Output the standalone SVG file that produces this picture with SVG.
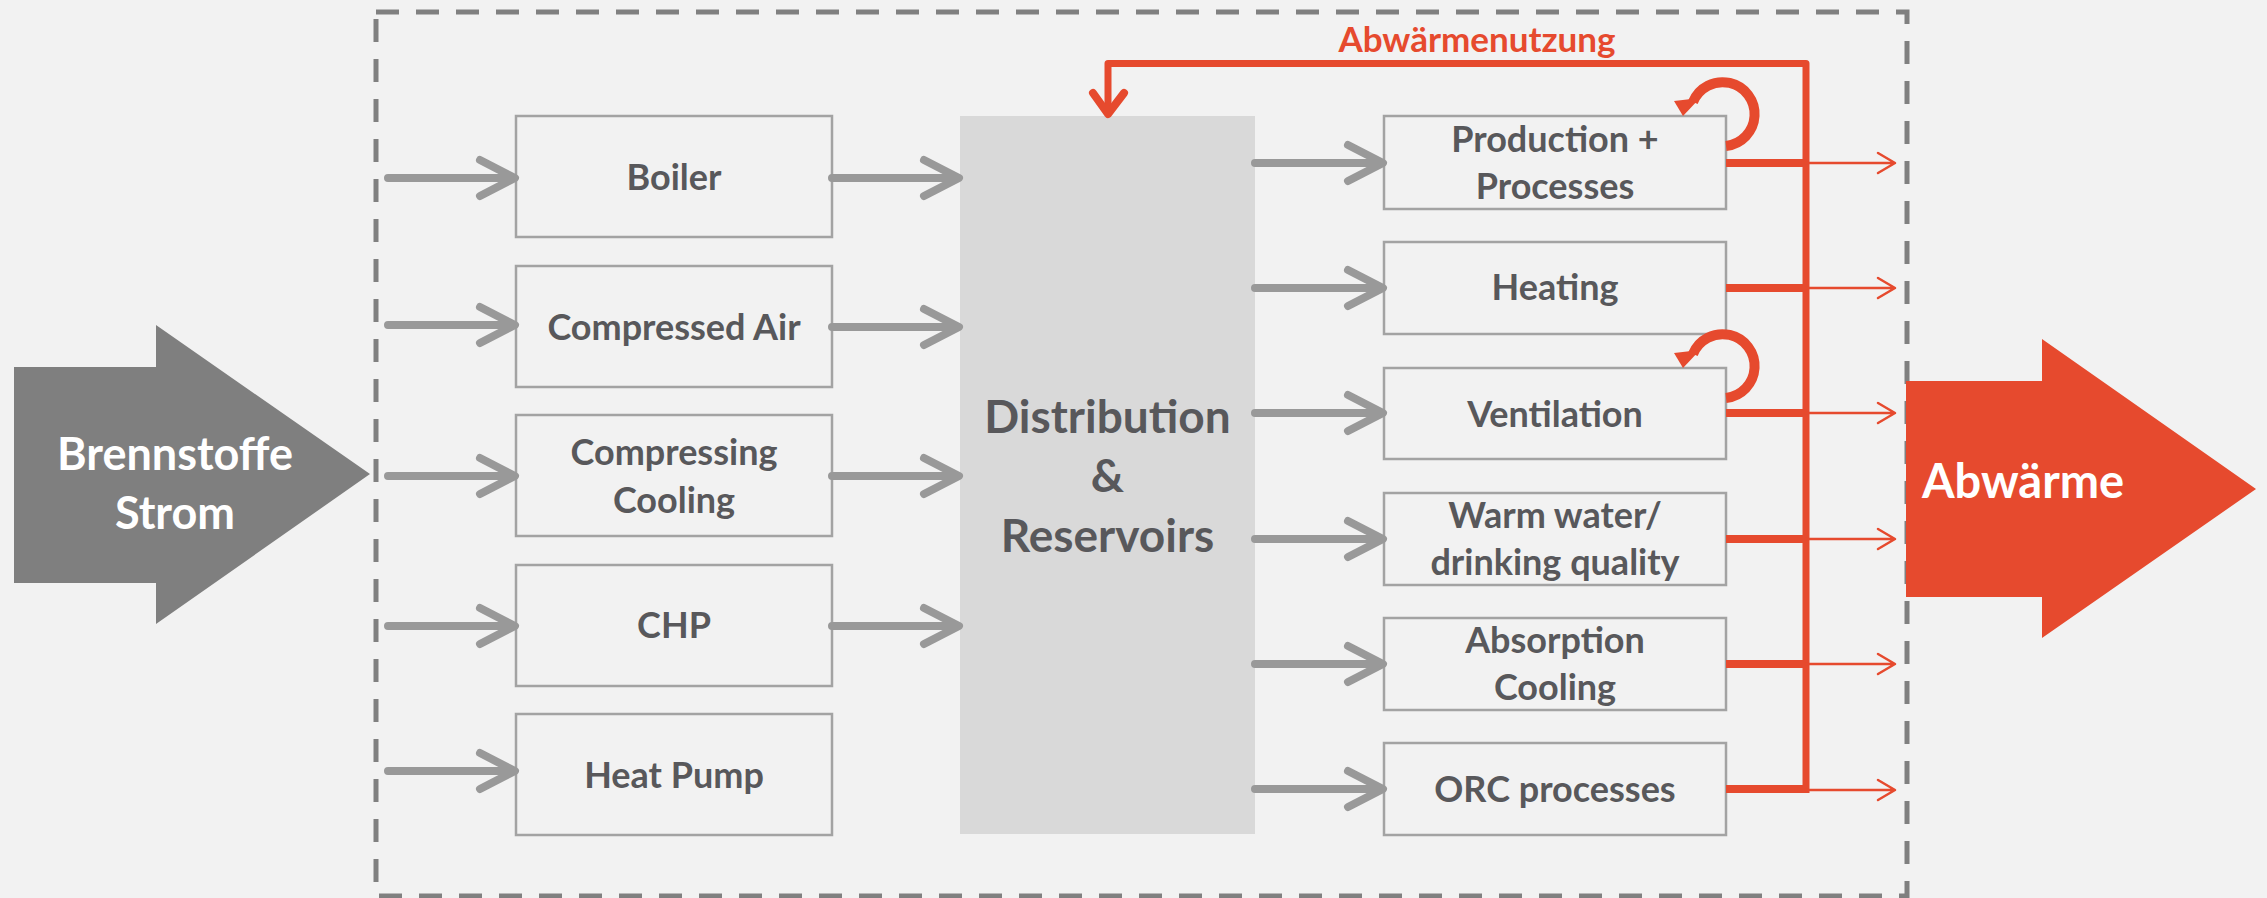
<svg xmlns="http://www.w3.org/2000/svg" width="2267" height="898" viewBox="0 0 2267 898">
<style>
.box{fill:#f2f2f2;stroke:#a3a3a3;stroke-width:2.5}
.lbl{font-family:Lato,"Liberation Sans",sans-serif;font-weight:bold;font-size:36px;fill:#58585b;text-anchor:middle}
.big{font-size:46px}
.garr{fill:none;stroke:#999999;stroke-width:8;stroke-linecap:round;stroke-linejoin:round}
.rthick{fill:none;stroke:#e64a2e;stroke-width:8}
.rthin{fill:none;stroke:#e64a2e;stroke-width:2.5;stroke-linecap:round;stroke-linejoin:round}
.white{font-family:Lato,"Liberation Sans",sans-serif;font-weight:bold;fill:#ffffff}
</style>
<rect x="0" y="0" width="2267" height="898" fill="#f2f2f2"/>
<rect id="boundary" x="376" y="12" width="1531" height="884" fill="none" stroke="#808080" stroke-width="5" stroke-dasharray="23 17"/>

<g id="brennstoffe">
<polygon points="14,367 156,367 156,325 370,474 156,624 156,583 14,583" fill="#7f7f7f"/>
<text class="white" x="175" y="470" font-size="45" text-anchor="middle">Brennstoffe</text>
<text class="white" x="175" y="529" font-size="45" text-anchor="middle">Strom</text>
</g>

<g id="abwaerme">
<polygon points="1906,381 2042,381 2042,339 2256,489 2042,638 2042,597 1906,597" fill="#e64a2e"/>
<text class="white" x="1922" y="498" font-size="47">Abwärme</text>
</g>

<g id="boiler"><rect class="box" x="516" y="116" width="316" height="121"/><text class="lbl" x="674" y="190">Boiler</text></g>
<g id="compressed-air"><rect class="box" x="516" y="266" width="316" height="121"/><text class="lbl" x="674" y="340">Compressed Air</text></g>
<g id="compressing-cooling"><rect class="box" x="516" y="415" width="316" height="121"/><text class="lbl" x="674" y="465">Compressing</text><text class="lbl" x="674" y="513">Cooling</text></g>
<g id="chp"><rect class="box" x="516" y="565" width="316" height="121"/><text class="lbl" x="674" y="638">CHP</text></g>
<g id="heat-pump"><rect class="box" x="516" y="714" width="316" height="121"/><text class="lbl" x="674" y="788">Heat Pump</text></g>

<g id="distribution"><rect x="960" y="116" width="295" height="718" fill="#d9d9d9"/>
<text class="lbl big" x="1107.5" y="433">Distribution</text>
<text class="lbl big" x="1107.5" y="492">&amp;</text>
<text class="lbl big" x="1107.5" y="552">Reservoirs</text></g>

<g id="production"><rect class="box" x="1384" y="116" width="342" height="93"/><text class="lbl" x="1555" y="152">Production +</text><text class="lbl" x="1555" y="199">Processes</text></g>
<g id="heating"><rect class="box" x="1384" y="242" width="342" height="92"/><text class="lbl" x="1555" y="300">Heating</text></g>
<g id="ventilation"><rect class="box" x="1384" y="368" width="342" height="91"/><text class="lbl" x="1555" y="427">Ventilation</text></g>
<g id="warm-water"><rect class="box" x="1384" y="493" width="342" height="92"/><text class="lbl" x="1555" y="528">Warm water/</text><text class="lbl" x="1555" y="575">drinking quality</text></g>
<g id="absorption"><rect class="box" x="1384" y="618" width="342" height="92"/><text class="lbl" x="1555" y="653">Absorption</text><text class="lbl" x="1555" y="700">Cooling</text></g>
<g id="orc"><rect class="box" x="1384" y="743" width="342" height="92"/><text class="lbl" x="1555" y="802">ORC processes</text></g>

<g id="connectors">
<path class="garr" d="M388,178 H511 M480,160 L515,178 L480,196"/>
<path class="garr" d="M388,325 H511 M480,307 L515,325 L480,343"/>
<path class="garr" d="M388,476 H511 M480,458 L515,476 L480,494"/>
<path class="garr" d="M388,626 H511 M480,608 L515,626 L480,644"/>
<path class="garr" d="M388,771 H511 M480,753 L515,771 L480,789"/>
<path class="garr" d="M832,178 H955 M924,160 L959,178 L924,196"/>
<path class="garr" d="M832,327 H955 M924,309 L959,327 L924,345"/>
<path class="garr" d="M832,476 H955 M924,458 L959,476 L924,494"/>
<path class="garr" d="M832,626 H955 M924,608 L959,626 L924,644"/>
<path class="garr" d="M1255,163 H1379 M1348,145 L1383,163 L1348,181"/>
<path class="garr" d="M1255,288 H1379 M1348,270 L1383,288 L1348,306"/>
<path class="garr" d="M1255,413 H1379 M1348,395 L1383,413 L1348,431"/>
<path class="garr" d="M1255,539 H1379 M1348,521 L1383,539 L1348,557"/>
<path class="garr" d="M1255,664 H1379 M1348,646 L1383,664 L1348,682"/>
<path class="garr" d="M1255,789 H1379 M1348,771 L1383,789 L1348,807"/>
<path class="rthick" d="M1726,163 H1806 M1726,288 H1806 M1726,413 H1806 M1726,539 H1806 M1726,664 H1806 M1726,789 H1806"/>
<path d="M1806,793 V63.5 H1108 V110" fill="none" stroke="#e64a2e" stroke-width="7" stroke-linejoin="round"/>
<path d="M1093,93 L1108,114 L1124,93" fill="none" stroke="#e64a2e" stroke-width="8" stroke-linecap="round" stroke-linejoin="round"/>
<text x="1477" y="52" font-family="Lato,'Liberation Sans',sans-serif" font-weight="bold" font-size="35" fill="#e64a2e" text-anchor="middle">Abwärmenutzung</text>
<path class="rthin" d="M1806,163 H1894 M1878,153 L1895,163 L1878,173"/>
<path class="rthin" d="M1806,288 H1894 M1878,278 L1895,288 L1878,298"/>
<path class="rthin" d="M1806,413 H1894 M1878,403 L1895,413 L1878,423"/>
<path class="rthin" d="M1806,539 H1894 M1878,529 L1895,539 L1878,549"/>
<path class="rthin" d="M1806,664 H1894 M1878,654 L1895,664 L1878,674"/>
<path class="rthin" d="M1806,790 H1894 M1878,780 L1895,790 L1878,800"/>
<path d="M1726,146 A32,32 0 1 0 1693,102" fill="none" stroke="#e64a2e" stroke-width="10"/>
<polygon points="1674,101 1700,98 1683,116" fill="#e64a2e"/>
<path d="M1726,398 A32,32 0 1 0 1693,354" fill="none" stroke="#e64a2e" stroke-width="10"/>
<polygon points="1674,353 1700,350 1683,368" fill="#e64a2e"/>
</g>
</svg>
